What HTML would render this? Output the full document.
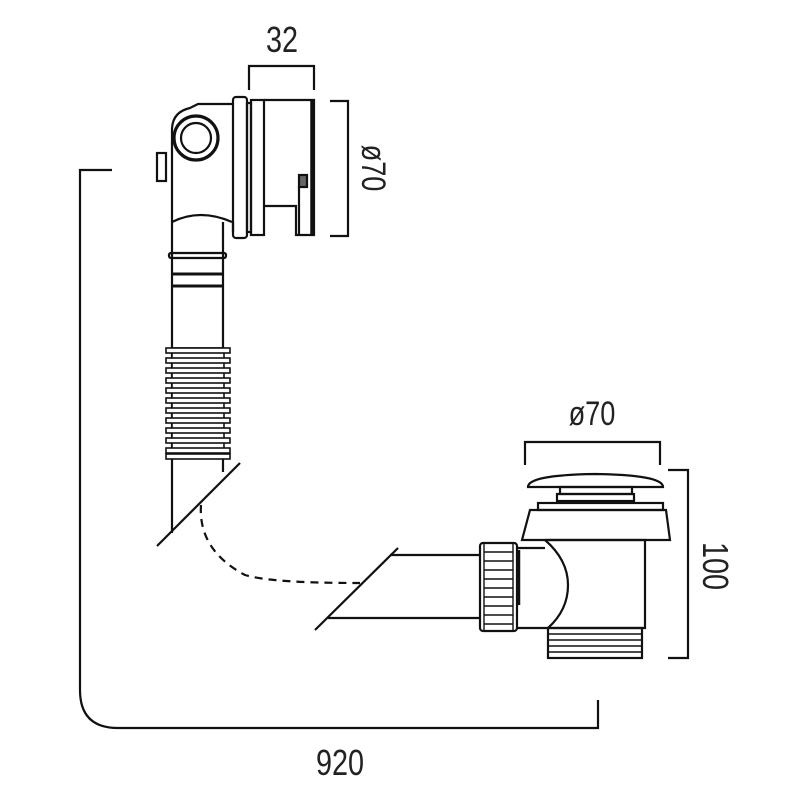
<!DOCTYPE html>
<html><head><meta charset="utf-8"><style>html,body{margin:0;padding:0;background:#fff}svg{display:block}</style></head>
<body>
<svg width="800" height="800" viewBox="0 0 800 800" xmlns="http://www.w3.org/2000/svg" fill="none" stroke="#111" stroke-width="2.2" font-family="Liberation Sans, sans-serif">
<!-- 920 dimension -->
<path d="M112 170 H80 V690 Q80 728 118 728 H598 V700"/>
<text x="340" y="775" font-size="36" fill="#222" stroke="none" text-anchor="middle" transform="translate(340 0) scale(0.8 1) translate(-340 0)">920</text>

<!-- 32 dimension -->
<path d="M249 90 V66 H314 V90"/>
<text x="282" y="52" font-size="36" fill="#222" stroke="none" text-anchor="middle" transform="translate(282 0) scale(0.8 1) translate(-282 0)">32</text>
<!-- ø70 vertical -->
<path d="M330 101 H348 V236 H330"/>
<text font-size="34" fill="#222" stroke="none" text-anchor="middle" transform="translate(362 168) rotate(90) scale(0.8 1)">ø70</text>

<!-- Overflow body -->
<path d="M172 230 V130 Q172 112 190 108 L198 104 H232"/>
<path d="M172 222 Q200 208 232 222"/>
<circle cx="196" cy="138" r="22" stroke-width="3.2"/>
<circle cx="196" cy="138" r="15"/>
<rect x="157" y="153" width="9" height="28"/>
<path d="M233 222 V232"/>
<rect x="233" y="97" width="14" height="141" rx="3"/>
<rect x="247" y="103" width="4" height="129"/>
<rect x="251" y="100" width="13" height="135"/>
<path d="M264 100 H314 V235 H296 V206 H264"/>
<path d="M312 100 V235" stroke-width="3.5"/>
<path d="M299 186 V235"/>
<rect x="299" y="175" width="8" height="12" fill="#666"/>

<!-- vertical pipe -->
<path d="M172 230 V533 M223 222 V472"/>
<rect x="169" y="253" width="57" height="5" rx="2"/>
<path d="M172 274 H223 M172 286 H223" stroke-width="3"/>
<!-- corrugated -->
<g stroke-width="1.6" fill="#fff">
<rect x="172" y="348" width="52" height="110"/>
<rect x="166" y="348" width="64" height="5"/>
<rect x="166" y="358" width="64" height="5"/>
<rect x="166" y="368" width="64" height="5"/>
<rect x="166" y="378" width="64" height="5"/>
<rect x="166" y="388" width="64" height="5"/>
<rect x="166" y="398" width="64" height="5"/>
<rect x="166" y="408" width="64" height="5"/>
<rect x="166" y="418" width="64" height="5"/>
<rect x="166" y="428" width="64" height="5"/>
<rect x="166" y="438" width="64" height="5"/>
<rect x="166" y="448" width="64" height="5"/>
<rect x="166" y="454" width="64" height="5"/>
</g>
<path d="M157 546 L240 463"/>
<path d="M201 505 Q198 550 245 575 Q270 583 360 583" stroke-dasharray="8 6"/>

<!-- horizontal pipe -->
<path d="M315 630 L398 548"/>
<path d="M390 555 H480 M328 618 H480"/>

<!-- Waste -->
<path d="M528 487 Q528 475 595 474 Q663 475 663 487 Z"/>
<rect x="560" y="487" width="72" height="7"/>
<rect x="557" y="494" width="77" height="7"/>
<rect x="538" y="503" width="125" height="7"/>
<path d="M530 510 H666 L670 540 H522 Z"/>
<path d="M545 540 H645 V628 H548"/>
<path d="M545 540 Q568 560 568 585 Q568 610 548 628"/>
<path d="M517 548 H545 M517 628 H548"/>
<rect x="548" y="628" width="94" height="30"/>
<path d="M548 634 H642 M548 640 H642 M548 646 H642 M548 652 H642" stroke-width="1.4"/>
<!-- nut -->
<rect x="480" y="543" width="37" height="88" rx="3" fill="#fff"/>
<path d="M484 543 V631 M513 543 V631" stroke-width="1.4"/>
<path d="M484 552 H513 M484 561 H513 M484 570 H513 M484 579 H513 M484 588 H513 M484 597 H513 M484 606 H513 M484 615 H513 M484 624 H513" stroke-width="1.4"/>
<path d="M519 550 V605" stroke-width="2.5"/>

<!-- ø70 waste dim -->
<path d="M525 465 V442 H660 V465"/>
<text x="592" y="425" font-size="34" fill="#222" stroke="none" text-anchor="middle" transform="translate(592 0) scale(0.8 1) translate(-592 0)">ø70</text>
<!-- 100 dim -->
<path d="M668 470 H688 V658 H668"/>
<text font-size="36" fill="#222" stroke="none" text-anchor="middle" transform="translate(703 566) rotate(90) scale(0.8 1)">100</text>
</svg>
</body></html>
